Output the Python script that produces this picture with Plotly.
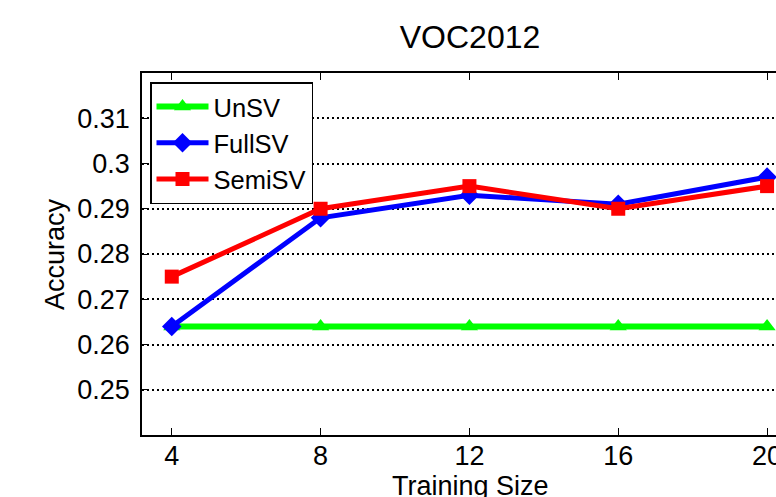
import plotly.graph_objects as go

training_size = [4, 8, 12, 16, 20]
unsv = [0.264, 0.264, 0.264, 0.264, 0.264]
fullsv = [0.264, 0.288, 0.293, 0.291, 0.297]
semisv = [0.275, 0.290, 0.295, 0.290, 0.295]
y_ticks = [0.25, 0.26, 0.27, 0.28, 0.29, 0.30, 0.31]
y_tick_text = ["0.25", "0.26", "0.27", "0.28", "0.29", "0.3", "0.31"]
x_ticks = [4, 8, 12, 16, 20]

font = "Liberation Sans, Arial, sans-serif"
fs = 27

W, H = 776, 497
L, T, B = 142, 73, 62
plot_h = H - T - B
plot_w = W - L

fig = go.Figure()
fig.add_trace(go.Scatter(x=training_size, y=unsv, name="UnSV", mode="lines+markers",
                         line=dict(color="#00ff00", width=6),
                         marker=dict(symbol="triangle-up", size=15, color="#00ff00")))
fig.add_trace(go.Scatter(x=training_size, y=fullsv, name="FullSV", mode="lines+markers",
                         line=dict(color="#0000ff", width=5),
                         marker=dict(symbol="diamond", size=15, color="#0000ff")))
fig.add_trace(go.Scatter(x=training_size, y=semisv, name="SemiSV", mode="lines+markers",
                         line=dict(color="#ff0000", width=5),
                         marker=dict(symbol="square", size=14, color="#ff0000")))

fig.update_layout(
    width=W, height=H,
    margin=dict(l=L, r=0, t=T, b=B, autoexpand=False),
    paper_bgcolor="white", plot_bgcolor="white",
    font=dict(family=font, size=fs, color="black"),
    title=dict(text="VOC2012", x=470/W, xanchor="center", y=1-37/H, yanchor="middle",
               font=dict(family=font, size=32, color="black"), automargin=False),
    legend=dict(x=(150 - L) / plot_w, y=(H - B - 82) / plot_h, xanchor="left", yanchor="top",
                bgcolor="white", bordercolor="black", borderwidth=1.5,
                font=dict(family=font, size=25.5, color="black"),
                itemwidth=52, tracegroupgap=0),
    showlegend=True,
    annotations=[
        dict(text="Training Size", xref="paper", yref="paper",
             x=(470 - L) / plot_w, y=(H - B - 486) / plot_h,
             xanchor="center", yanchor="middle", showarrow=False,
             font=dict(family=font, size=fs, color="black")),
        dict(text="Accuracy", xref="paper", yref="paper",
             x=(55 - L) / plot_w, y=0.5, textangle=-90,
             xanchor="center", yanchor="middle", showarrow=False,
             font=dict(family=font, size=fs, color="black")),
    ],
)
fig.update_xaxes(range=[3.2, 20.24], tickvals=x_ticks, ticks="inside", ticklen=7,
                 tickcolor="black", showline=True, linecolor="black", linewidth=1.5,
                 mirror="ticks", showgrid=False, zeroline=False, automargin=False,
                 ticklabeloverflow="allow", ticklabelstandoff=-4,
                 tickfont=dict(family=font, size=fs))
fig.update_yaxes(range=[0.24, 0.32], tickvals=y_ticks, ticktext=y_tick_text,
                 ticks="inside", ticklen=7, tickcolor="black",
                 showline=True, linecolor="black", linewidth=1.5, mirror=False,
                 showgrid=True, gridcolor="black", gridwidth=1.5, griddash="2px,3px",
                 zeroline=False, automargin=False, ticklabelstandoff=5,
                 tickfont=dict(family=font, size=fs))

fig.write_html("out.html", config={"displayModeBar": False},
               post_script="document.body.style.margin='0';document.body.style.overflow='hidden';")
